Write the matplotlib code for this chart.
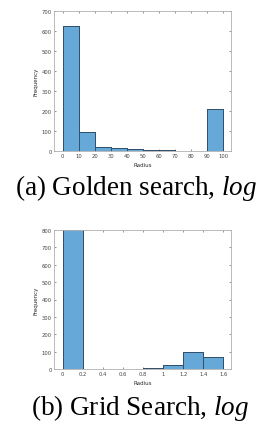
import matplotlib
matplotlib.use("Agg")
import matplotlib.pyplot as plt
import numpy as np

# Data: histogram (a) Golden search
golden_edges = [0, 10, 20, 30, 40, 50, 60, 70, 80, 90, 100]
golden_counts = [625, 93, 18, 17, 10, 6, 5, 2, 2, 210]
golden_xticks = [0, 10, 20, 30, 40, 50, 60, 70, 80, 90, 100]
golden_yticks = [0, 100, 200, 300, 400, 500, 600, 700]

# Data: histogram (b) Grid search
grid_edges = [0, 0.2, 0.4, 0.6, 0.8, 1.0, 1.2, 1.4, 1.6]
grid_counts = [830, 0, 0, 0, 8, 27, 97, 68]
grid_xticks = [0, 0.2, 0.4, 0.6, 0.8, 1.0, 1.2, 1.4, 1.6]
grid_xticklabels = ["0", "0.2", "0.4", "0.6", "0.8", "1", "1.2", "1.4", "1.6"]
grid_yticks = [0, 100, 200, 300, 400, 500, 600, 700, 800]

captions = ["(a) Golden search, $\\mathit{log}$", "(b) Grid Search, $\\mathit{log}$"]

W, H = 263, 435
fig = plt.figure(figsize=(W / 100, H / 100), dpi=100)
plt.rcParams['mathtext.fontset'] = 'custom'
plt.rcParams['mathtext.it'] = 'Liberation Serif:italic'
plt.rcParams['mathtext.rm'] = 'Liberation Serif'

face = "#66a8d8"
edge = "#34516b"
axcol = "#262626"
tickcol = "#444444"


def style(ax):
    for s in ax.spines.values():
        s.set_color("#b0b0b0")
        s.set_linewidth(0.6)
    ax.tick_params(direction="in", length=1.5, width=0.4, labelsize=3.8,
                   colors=tickcol, pad=1.5, top=True, right=True)


def px_axes(x0, y0, x1, y1):
    return fig.add_axes([x0 / W, 1 - y1 / H, (x1 - x0) / W, (y1 - y0) / H])


ax1 = px_axes(54, 12.3, 231, 152)
ax1.stairs(golden_counts, golden_edges, fill=True, facecolor=face, edgecolor=edge, linewidth=0.7)
ax1.stairs(golden_counts, golden_edges, fill=False, edgecolor=edge, linewidth=0.7)
for e, c0, c1 in zip(golden_edges[1:-1], golden_counts[:-1], golden_counts[1:]):
    ax1.vlines(e, 0, min(c0, c1), color=edge, linewidth=0.7)
ax1.set_xlim(-5.4, 104.8)
ax1.set_ylim(0, 700)
ax1.set_xticks(golden_xticks)
ax1.set_yticks(golden_yticks)
ax1.set_xlabel("Radius", fontsize=4, color=axcol, labelpad=2.5)
ax1.set_ylabel("Frequency", fontsize=4, color=axcol, labelpad=2.5)
style(ax1)

ax2 = px_axes(54, 230.7, 231, 370.3)
ax2.stairs(grid_counts, grid_edges, fill=True, facecolor=face, edgecolor=edge, linewidth=0.7)
for i, c in enumerate(grid_counts):
    if c > 0:
        ax2.bar(grid_edges[i], c, width=grid_edges[i + 1] - grid_edges[i], align="edge",
                facecolor="none", edgecolor=edge, linewidth=0.7)
ax2.set_xlim(-0.087, 1.677)
ax2.set_ylim(0, 800)
ax2.set_xticks(grid_xticks)
ax2.set_xticklabels(grid_xticklabels)
ax2.set_yticks(grid_yticks)
ax2.set_xlabel("Radius", fontsize=4, color=axcol, labelpad=2.5)
ax2.set_ylabel("Frequency", fontsize=4, color=axcol, labelpad=2.5)
style(ax2)

fig.text(136.5 / W, 1 - 188 / H, captions[0], ha="center", va="center",
         fontsize=19.5, family="Liberation Serif")
fig.text(140 / W, 1 - 408 / H, captions[1], ha="center", va="center",
         fontsize=19.5, family="Liberation Serif")

fig.savefig("out.png", dpi=100)
